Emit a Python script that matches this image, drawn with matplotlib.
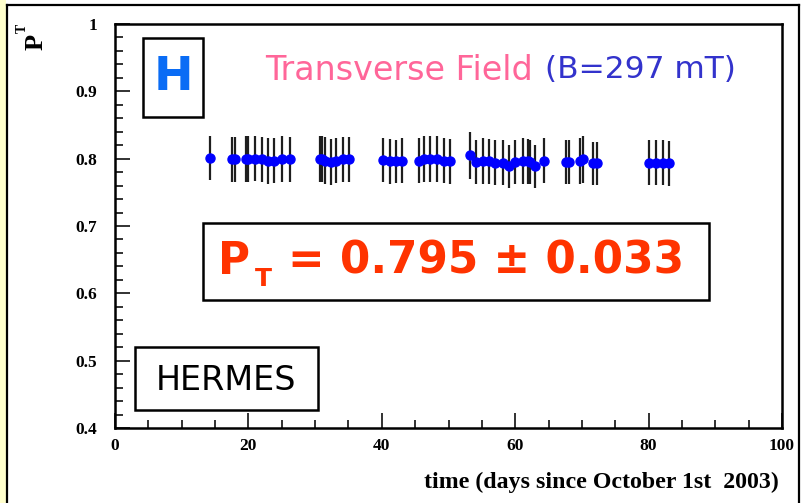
import matplotlib
matplotlib.use("Agg")
import matplotlib.pyplot as plt
from matplotlib.patches import Rectangle
from matplotlib.lines import Line2D
from matplotlib.ticker import FixedLocator, MultipleLocator

# Target polarisation measurements (days since Oct 1st 2003)
days = [14.25, 17.5, 18.0, 19.65, 20.0, 21.0, 22.0, 22.9, 23.9, 25.0, 26.25,
        30.75, 31.0, 31.5, 32.35, 33.15, 34.15, 35.15,
        40.15, 41.25, 42.1, 43.05, 45.65, 46.35, 47.25, 48.25, 49.35, 50.25,
        53.25, 54.1, 55.1, 56.0, 57.0, 58.15, 59.0, 60.0, 61.1, 61.9, 62.25,
        63.0, 64.25, 67.65, 68.05, 69.75, 70.15, 71.6, 72.25,
        80.1, 81.1, 82.15, 83.05]
polarisation = [0.801, 0.799, 0.799, 0.800, 0.800, 0.800, 0.799, 0.796, 0.797,
                0.799, 0.799,
                0.800, 0.799, 0.797, 0.795, 0.797, 0.799, 0.799,
                0.798, 0.796, 0.796, 0.797, 0.797, 0.799, 0.799, 0.799, 0.797,
                0.796,
                0.805, 0.795, 0.797, 0.796, 0.794, 0.794, 0.789, 0.795, 0.797,
                0.796, 0.795, 0.789, 0.797, 0.795, 0.795, 0.797, 0.799, 0.793,
                0.793,
                0.794, 0.794, 0.794, 0.793]
pol_err = [0.032, 0.033, 0.033, 0.034, 0.034, 0.033, 0.033, 0.034, 0.033,
           0.034, 0.033,
           0.034, 0.034, 0.035, 0.034, 0.033, 0.033, 0.033,
           0.033, 0.033, 0.032, 0.033, 0.033, 0.034, 0.034, 0.034, 0.033,
           0.033,
           0.035, 0.033, 0.034, 0.033, 0.033, 0.033, 0.032, 0.033, 0.034,
           0.033, 0.033, 0.032, 0.033, 0.033, 0.033, 0.034, 0.035, 0.032,
           0.032,
           0.033, 0.033, 0.033, 0.033]
day_halfwidth = 0.5

x_ticks = [0, 20, 40, 60, 80, 100]
x_ticklabels = ["0", "20", "40", "60", "80", "100"]
y_ticks = [0.4, 0.5, 0.6, 0.7, 0.8, 0.9, 1.0]
y_ticklabels = ["0.4", "0.5", "0.6", "0.7", "0.8", "0.9", "1"]

W, H = 802, 503
fig = plt.figure(figsize=(W / 100, H / 100), dpi=100, facecolor="white")


def fx(px):
    return px / W


def fy(py):
    return 1 - py / H


# page frame: yellow strip on the left and thin black border
fig.patches.append(Rectangle((0, 0), fx(6), 1, transform=fig.transFigure,
                             facecolor="#FFFFCC", edgecolor="none", zorder=0))
for line in [((fx(6.5), fx(6.5)), (0, fy(5))),
             ((fx(6.5), fx(799)), (fy(5), fy(5))),
             ((fx(799), fx(799)), (0, fy(5)))]:
    fig.lines.append(Line2D(*line, transform=fig.transFigure, color="black",
                            lw=1.6))

ax = fig.add_axes([fx(115), fy(428), fx(782) - fx(115), fy(24) - fy(428)])
ax.set_xlim(0, 100)
ax.set_ylim(0.4, 1.0)

serif = ["Liberation Serif", "DejaVu Serif"]
ax.xaxis.set_major_locator(FixedLocator(x_ticks))
ax.set_xticklabels(x_ticklabels, fontfamily=serif, fontweight="bold",
                   fontsize=12.5)
ax.xaxis.set_minor_locator(MultipleLocator(5))
ax.yaxis.set_major_locator(FixedLocator(y_ticks))
ax.set_yticklabels(y_ticklabels, fontfamily=serif, fontweight="bold",
                   fontsize=12.5)
ax.yaxis.set_minor_locator(MultipleLocator(0.02))
ax.tick_params(which="both", direction="in", top=False, right=False,
               width=1.3, color="#222222")
ax.tick_params(which="major", length=11)
ax.tick_params(which="minor", length=5.5)
ax.tick_params(axis="x", which="major", pad=7)
ax.tick_params(axis="y", which="major", pad=13)
for s in ax.spines.values():
    s.set_linewidth(1.8)

# vertical error bars, then horizontal time bins and markers
ax.errorbar(days, polarisation, yerr=pol_err, fmt="none", ecolor="#1e1e1e",
            elinewidth=1.6, capsize=0, zorder=2)
ax.errorbar(days, polarisation, xerr=day_halfwidth, fmt="o", color="#0000FF",
            ms=6.5, elinewidth=3.8, capsize=0, zorder=3)

ax.set_xlabel("time (days since October 1st  2003)", fontfamily=serif,
              fontweight="bold", fontsize=17.2)
ax.xaxis.set_label_coords(fx(778) / ax.get_position().x1, -0.108)
ax.xaxis.label.set_horizontalalignment("right")

# y-axis title P^T, rotated
fig.text(fx(36), fy(41.5), "P", rotation=90, ha="center", va="center",
         fontsize=19, fontweight="bold", fontfamily=serif, color="black")
fig.text(fx(22.5), fy(28.5), "T", rotation=90, ha="center", va="center",
         fontsize=10, fontweight="bold", fontfamily=serif, color="black")

sans = ["DejaVu Sans"]


# boxed labels
def box(x0, y0, x1, y1):
    fig.patches.append(Rectangle((fx(x0), fy(y1)), fx(x1) - fx(x0),
                                 fy(y0) - fy(y1), transform=fig.transFigure,
                                 facecolor="white", edgecolor="black",
                                 lw=1.8, zorder=5))


box(143, 38, 203, 117)
fig.text(fx(173), fy(77), "H", color="#0A6CF5", fontsize=34,
         fontweight="bold", fontfamily=sans, ha="center", va="center",
         zorder=6)

fig.text(fx(265), fy(70), "Transverse Field", color="#FF6699", fontsize=24,
         fontfamily=sans, ha="left", va="center", zorder=6)
fig.text(fx(545), fy(70), "(B=297 mT)", color="#3333CC", fontsize=22.5,
         fontfamily=sans, ha="left", va="center", zorder=6)

box(203, 223, 709, 300)
pt_style = dict(color="#FF3300", fontweight="bold", fontfamily=sans,
                zorder=6)
fig.text(fx(218), fy(261), "P", fontsize=31.5, ha="left", va="center",
         **pt_style)
fig.text(fx(255), fy(279), "T", fontsize=18, ha="left", va="center",
         **pt_style)
fig.text(fx(684), fy(261), "= 0.795 \u00b1 0.033", fontsize=31.5,
         ha="right", va="center", **pt_style)

box(135, 347, 318, 410)
fig.text(fx(226), fy(380), "HERMES", color="black", fontsize=24,
         fontfamily=sans, ha="center", va="center", zorder=6)

fig.savefig("out.png", dpi=100, facecolor="white")
